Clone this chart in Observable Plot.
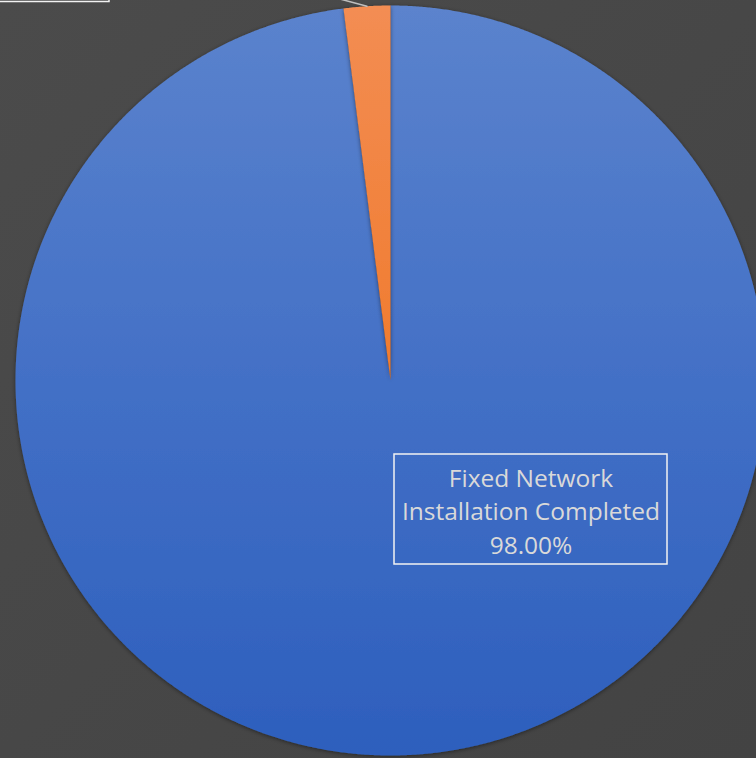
<!DOCTYPE html>
<html>
<head>
<meta charset="utf-8">
<script src="https://cdn.jsdelivr.net/npm/d3@7"></script>
<script src="https://cdn.jsdelivr.net/npm/@observablehq/plot@0.6"></script>
<style>
  html, body { margin: 0; padding: 0; background: #474747; overflow: hidden; }
  #chart { width: 756px; height: 758px; }
</style>
</head>
<body>
<div id="chart"></div>
<script>
// ---- data ----
const categories = ["Fixed Network Installation Completed", "Fixed Network Installation Pending"];
const shares = [98.00, 2.00];
const labelTexts = ["Fixed Network\nInstallation Completed\n98.00%"];

// ---- layout (pixels) ----
const W = 756, H = 758;
const cx = 390, cy = 380, R = 375;

// arcs via d3.pie: Excel starts at 12 o'clock, clockwise
const arcs = d3.pie().sort(null).value(d => d)(shares);
const pts = [];
arcs.forEach((a, i) => {
  const n = Math.max(4, Math.ceil((a.endAngle - a.startAngle) / (Math.PI / 720)));
  pts.push({slice: i, x: 0, y: 0});
  for (let k = 0; k <= n; k++) {
    const t = a.startAngle + (a.endAngle - a.startAngle) * k / n;
    pts.push({slice: i, x: Math.sin(t), y: Math.cos(t)});
  }
});

// main label box (units of radius, relative to pie centre)
const box = [{x1: (394 - cx) / R, x2: (667 - cx) / R, y1: (cy - 454) / R, y2: (cy - 564) / R}];
// pending slice label box (mostly above the visible area)
const box2 = [{x1: (-2 - cx) / R, x2: (109 - cx) / R, y1: (cy - 1.5) / R, y2: (cy + 60) / R}];
// leader line from mid of pending slice
const midP = (arcs[1].startAngle + arcs[1].endAngle) / 2;
const leader = [{x: Math.sin(midP), y: Math.cos(midP)}, {x: (330 - cx) / R, y: (cy + 4) / R}];

const plot = Plot.plot({
  width: W, height: H,
  margin: 0,
  x: {domain: [-cx / R, (W - cx) / R], range: [0, W], axis: null},
  y: {domain: [-(H - cy) / R, cy / R], range: [H, 0], axis: null},
  style: {background: "transparent", overflow: "visible"},
  marks: [
    Plot.line(pts.filter(d => d.slice === 0), {x: "x", y: "y", fill: "url(#gBlue)", stroke: "none", curve: "linear-closed"}),
    Plot.line(pts.filter(d => d.slice === 1), {x: "x", y: "y", fill: "url(#gOrange)", stroke: "none", curve: "linear-closed"}),
    Plot.line(leader, {x: "x", y: "y", stroke: "#bfbfbf", strokeWidth: 1.5}),
    Plot.rect(box2, {x1: "x1", x2: "x2", y1: "y1", y2: "y2", fill: "none", stroke: "#f2f2f2", strokeWidth: 1.5}),
    Plot.rect(box, {x1: "x1", x2: "x2", y1: "y1", y2: "y2", fill: "none", stroke: "#f2f2f2", strokeWidth: 1.5}),
    Plot.text(labelTexts, {
      x: box[0].x1 + (box[0].x2 - box[0].x1) / 2,
      y: box[0].y1 + (box[0].y2 - box[0].y1) / 2,
      text: d => d,
      fill: "#d9d9d9",
      fontSize: 24.5,
      fontFamily: "'Open Sans', sans-serif",
      lineHeight: 1.37,
      textAnchor: "middle",
      lineAnchor: "middle"
    })
  ]
});

// gradients + shadow
const svg = d3.select(plot);
const defs = svg.insert("defs", ":first-child");
const gb = defs.append("linearGradient").attr("id", "gBlue")
  .attr("gradientUnits", "userSpaceOnUse").attr("x1", 0).attr("y1", cy - R).attr("x2", 0).attr("y2", cy + R);
gb.append("stop").attr("offset", 0).attr("stop-color", "#5b83cd");
gb.append("stop").attr("offset", 0.5).attr("stop-color", "#4370c6");
gb.append("stop").attr("offset", 1).attr("stop-color", "#2d5fbd");
const go = defs.append("linearGradient").attr("id", "gOrange")
  .attr("gradientUnits", "userSpaceOnUse").attr("x1", 0).attr("y1", cy - R).attr("x2", 0).attr("y2", cy + R);
go.append("stop").attr("offset", 0).attr("stop-color", "#f38d53");
go.append("stop").attr("offset", 0.5).attr("stop-color", "#f07b2e");
go.append("stop").attr("offset", 1).attr("stop-color", "#e86c14");
const f = defs.append("filter").attr("id", "shadow").attr("x", "-10%").attr("y", "-10%").attr("width", "120%").attr("height", "120%");
f.append("feDropShadow").attr("dx", 0).attr("dy", 1).attr("stdDeviation", 2).attr("flood-color", "#000").attr("flood-opacity", 0.45);
svg.selectAll("g[aria-label='line']").filter((d, i) => i < 2).attr("filter", "url(#shadow)");

document.getElementById("chart").append(plot);
document.body.style.background = "linear-gradient(135deg, #4b4b4b 0%, #474747 50%, #434343 100%)";
</script>
</body>
</html>
